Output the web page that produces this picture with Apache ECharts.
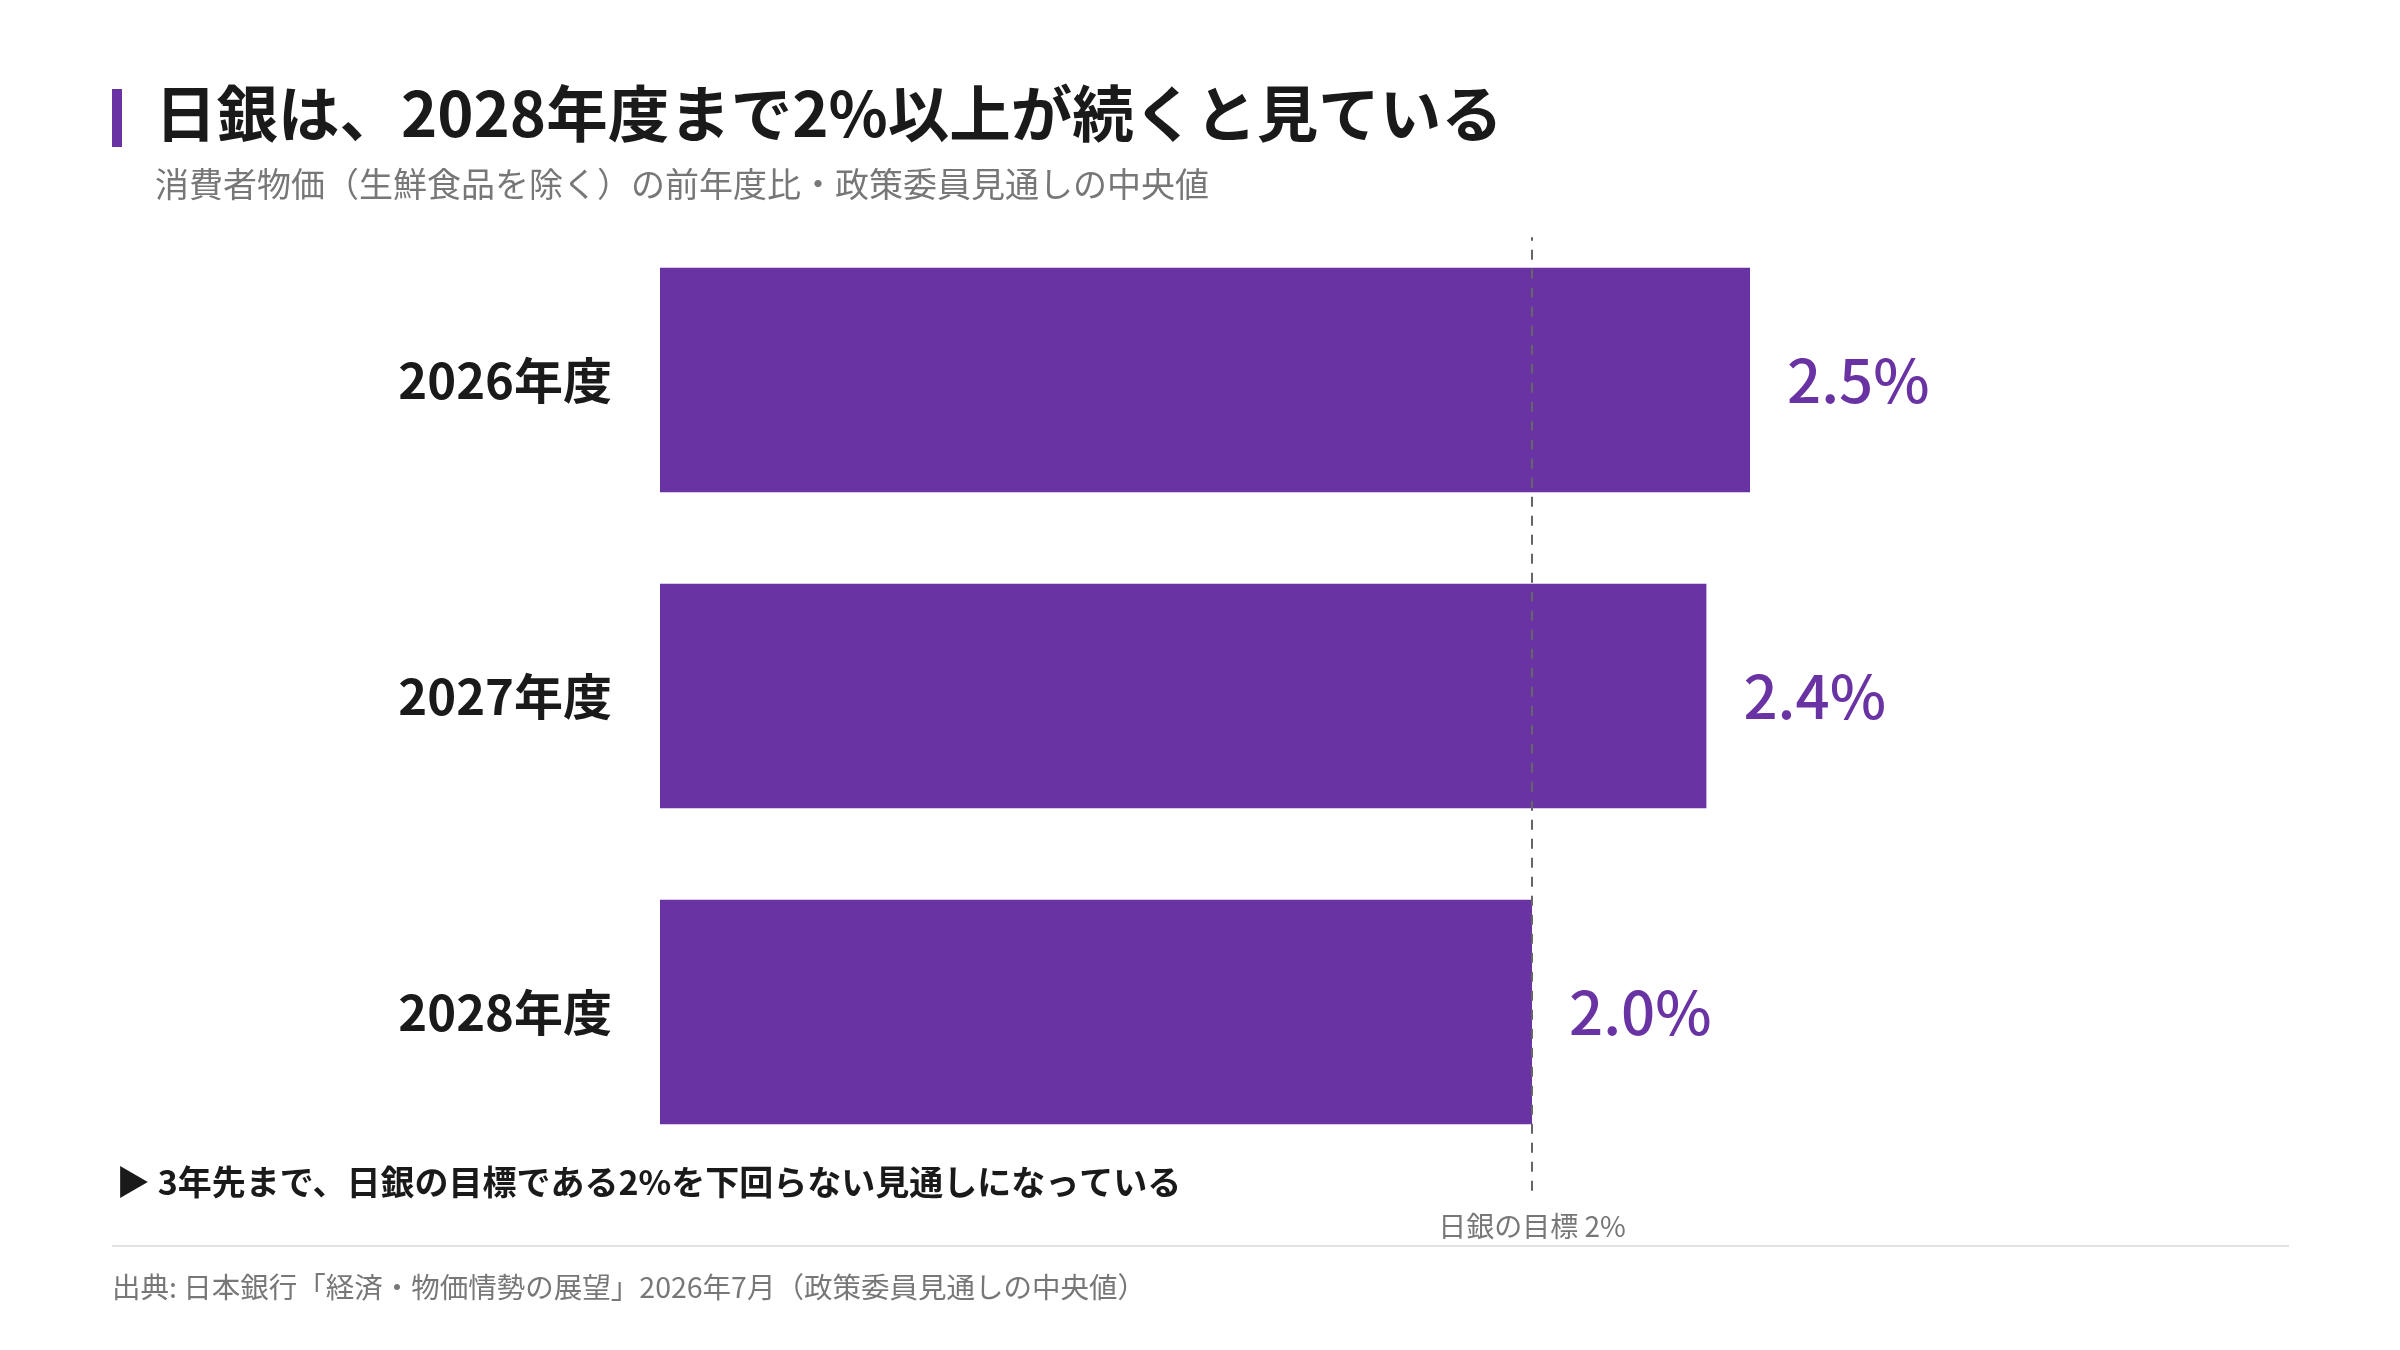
<!DOCTYPE html>
<html lang="ja">
<head>
	<meta charset="UTF-8">
	<title>日銀は、2028年度まで2%以上が続くと見ている</title>
	<script src="https://cdn.jsdelivr.net/npm/echarts@6/dist/echarts.min.js"></script>
	<style>
		html, body { margin: 0; padding: 0; background: #fff; }
		#main { width: 2400px; height: 1350px; }
	</style>
</head>
<body>
	<div id="main"></div>
	<script>
		// データ
		var categories = ['2026年度', '2027年度', '2028年度'];
		var values = [2.5, 2.4, 2.0];
		var targetValue = 2;
		var targetLabel = '日銀の目標 2%';

		var titleText = '日銀は、2028年度まで2%以上が続くと見ている';
		var subtitleText = '消費者物価（生鮮食品を除く）の前年度比・政策委員見通しの中央値';
		var noteText = '▶ 3年先まで、日銀の目標である2%を下回らない見通しになっている';
		var sourceText = '出典: 日本銀行「経済・物価情勢の展望」2026年7月（政策委員見通しの中央値）';

		var purple = '#6a33a3';
		var font = '"Noto Sans CJK JP", "Noto Sans", sans-serif';

		var option = {
			backgroundColor: '#fff',
			animation: false,
			textStyle: { fontFamily: font },
			grid: {
				left: 660,
				width: 1308,
				top: 222,
				height: 948
			},
			xAxis: {
				type: 'value',
				min: 0,
				max: 3,
				show: false
			},
			yAxis: [
				{
					type: 'category',
					inverse: true,
					data: categories,
					axisLine: { show: false },
					axisTick: { show: false },
					axisLabel: {
						margin: 48,
						fontSize: 49,
						fontWeight: 'bold',
						color: '#1a1a1a',
						fontFamily: font
					}
				},
				{
					// 目標線用の補助軸
					type: 'value',
					min: 0,
					max: 1,
					show: false
				}
			],
			series: [
				{
					name: '前年度比',
					type: 'bar',
					data: values,
					barCategoryGap: '29%',
					itemStyle: { color: purple },
					label: {
						show: true,
						position: 'right',
						distance: 37,
						fontSize: 60,
						fontWeight: 500,
						color: purple,
						fontFamily: font,
						formatter: function (p) { return p.value.toFixed(1) + '%'; }
					},
					z: 2
				},
				{
					name: targetLabel,
					type: 'line',
					yAxisIndex: 1,
					clip: false,
					symbol: 'circle',
					symbolSize: 0,
					lineStyle: { color: '#666', width: 2, type: [10, 9] },
					data: [
						{
							value: [targetValue, -0.022],
							label: {
								show: true,
								position: 'bottom',
								distance: 22,
								formatter: targetLabel,
								fontSize: 28,
								color: '#777',
								fontFamily: font
							}
						},
						{ value: [targetValue, 0.984] }
					],
					z: 5
				}
			],
			graphic: [
				{ type: 'rect', shape: { x: 112, y: 89, width: 10, height: 58 }, style: { fill: purple } },
				{
					type: 'text', x: 155, y: 114,
					style: { text: titleText, fill: '#1a1a1a', font: 'bold 61.5px ' + font, verticalAlign: 'middle' }
				},
				{
					type: 'text', x: 155, y: 184,
					style: { text: subtitleText, fill: '#777', font: '34px ' + font, verticalAlign: 'middle' }
				},
				{
					type: 'text', x: 116, y: 1182,
					style: { text: noteText, fill: '#1a1a1a', font: 'bold 34px ' + font, verticalAlign: 'middle' }
				},
				{ type: 'rect', shape: { x: 112, y: 1245, width: 2177, height: 2 }, style: { fill: '#e2e2e2' } },
				{
					type: 'text', x: 112, y: 1287,
					style: { text: sourceText, fill: '#777', font: '28.5px ' + font, verticalAlign: 'middle' }
				}
			]
		};

		var myChart = echarts.init(document.getElementById('main'));
		myChart.setOption(option);
	</script>
</body>
</html>
